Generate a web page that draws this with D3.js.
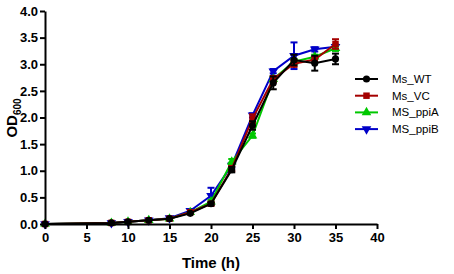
<!DOCTYPE html>
<head>
    <meta charset="utf-8">
    <title>Growth curve</title>
    <style>
        body { margin: 0; background: #fff; }
        text { font-family: "Liberation Sans", Arial, sans-serif; }
    </style>
</head>
<body>

<script src="https://cdnjs.cloudflare.com/ajax/libs/d3/7.8.5/d3.min.js"></script>

<script>

    // time points (h)
    const times = [0, 8, 10, 12.5, 15, 17.5, 20, 22.5, 25, 27.5, 30, 32.5, 35];

    // OD600 values
    const msWT   = [0, 0.02, 0.04, 0.07, 0.10, 0.20, 0.38, 1.02, 1.85, 2.65, 3.08, 3.02, 3.10];
    const msVC   = [0, 0.02, 0.04, 0.07, 0.10, 0.22, 0.38, 1.04, 1.98, 2.72, 3.01, 3.09, 3.38];
    const msPpiA = [0, 0.02, 0.04, 0.07, 0.10, 0.22, 0.42, 1.17, 1.66, 2.72, 3.05, 3.14, 3.30];
    const msPpiB = [0, 0.02, 0.04, 0.07, 0.11, 0.25, 0.53, 1.10, 2.04, 2.87, 3.16, 3.28, 3.33];

    // error bars (+/-)
    const errWT   = [0, 0.01, 0.01, 0.01, 0.01, 0.02, 0.03, 0.05, 0.08, 0.12, 0.10, 0.14, 0.10];
    const errVC   = [0, 0.01, 0.01, 0.01, 0.01, 0.02, 0.03, 0.05, 0.08, 0.06, 0.06, 0.05, 0.09];
    const errPpiA = [0, 0.01, 0.01, 0.01, 0.01, 0.02, 0.03, 0.05, 0.04, 0.05, 0.05, 0.04, 0.05];
    const errPpiB = [0, 0.01, 0.01, 0.01, 0.01, 0.02, 0.15, 0.04, 0.04, 0.04, 0.25, 0.04, 0.04];

    const seriesNames = ['Ms_WT', 'Ms_VC', 'MS_ppiA', 'MS_ppiB'];
    const seriesColors = ['#000000', '#a50000', '#00c800', '#0000c8'];

    const xTicks = [0, 5, 10, 15, 20, 25, 30, 35, 40];
    const yTicks = [0, 0.5, 1.0, 1.5, 2.0, 2.5, 3.0, 3.5, 4.0];

    const series = [
        {name: seriesNames[0], color: seriesColors[0], vals: msWT, err: errWT, sym: d3.symbolCircle, size: 40, rot: 0},
        {name: seriesNames[1], color: seriesColors[1], vals: msVC, err: errVC, sym: d3.symbolSquare, size: 42, rot: 0},
        {name: seriesNames[2], color: seriesColors[2], vals: msPpiA, err: errPpiA, sym: d3.symbolTriangle, size: 40, rot: 0},
        {name: seriesNames[3], color: seriesColors[3], vals: msPpiB, err: errPpiB, sym: d3.symbolTriangle, size: 40, rot: 180}
    ];

    const width = 454, height = 274;

    const x = d3.scaleLinear().domain([0, 40]).range([45, 377]);
    const y = d3.scaleLinear().domain([0, 4]).range([224, 11]);

    const svg = d3.select('body').append('svg')
        .attr('width', width)
        .attr('height', height);

    const line = d3.line()
        .x(d => x(d.t))
        .y(d => y(d.v));

    // draw last series first so WT ends up on top
    series.slice().reverse().forEach(s => {
        const pts = times.map((t, i) => ({t: t, v: s.vals[i], e: s.err[i]}));
        const g = svg.append('g').attr('class', 'series');

        g.append('path')
            .datum(pts)
            .attr('d', line)
            .attr('fill', 'none')
            .attr('stroke', s.color)
            .attr('stroke-width', 2);

        const eb = g.selectAll('.err')
            .data(pts.filter(d => d.e > 0.02))
            .enter().append('g')
            .attr('stroke', s.color)
            .attr('stroke-width', 2);
        eb.append('line')
            .attr('x1', d => x(d.t)).attr('x2', d => x(d.t))
            .attr('y1', d => y(d.v - d.e)).attr('y2', d => y(d.v + d.e));
        eb.append('line')
            .attr('x1', d => x(d.t) - 3.5).attr('x2', d => x(d.t) + 3.5)
            .attr('y1', d => y(d.v + d.e)).attr('y2', d => y(d.v + d.e));
        eb.append('line')
            .attr('x1', d => x(d.t) - 3.5).attr('x2', d => x(d.t) + 3.5)
            .attr('y1', d => y(d.v - d.e)).attr('y2', d => y(d.v - d.e));

        g.selectAll('.pt')
            .data(pts)
            .enter().append('path')
            .attr('d', d3.symbol().type(s.sym).size(s.size))
            .attr('transform', d => 'translate(' + x(d.t) + ',' + y(d.v) + ') rotate(' + s.rot + ')')
            .attr('fill', s.color);
    });

    // axes
    const xAxis = d3.axisBottom(x)
        .tickValues(xTicks)
        .tickSize(5)
        .tickSizeOuter(0)
        .tickFormat(d3.format('d'));

    const yAxis = d3.axisLeft(y)
        .tickValues(yTicks)
        .tickSize(5)
        .tickSizeOuter(0)
        .tickFormat(d3.format('.1f'));

    const gx = svg.append('g')
        .attr('transform', 'translate(0,' + y(0) + ')')
        .call(xAxis);

    const gy = svg.append('g')
        .attr('transform', 'translate(' + x(0) + ',0)')
        .call(yAxis);

    [gx, gy].forEach(g => {
        g.select('.domain').attr('stroke', '#000').attr('stroke-width', 2);
        g.selectAll('.tick line').attr('stroke', '#000').attr('stroke-width', 2);
        g.selectAll('.tick text')
            .attr('fill', '#000')
            .style('font-family', '"Liberation Sans", Arial, sans-serif')
            .style('font-size', '13px')
            .style('font-weight', 'bold');
    });
    gx.selectAll('.tick text').attr('y', 9);
    gy.selectAll('.tick text').attr('x', -7);

    svg.append('text')
        .attr('x', 211)
        .attr('y', 268)
        .attr('text-anchor', 'middle')
        .style('font-size', '15px')
        .style('font-weight', 'bold')
        .text('Time (h)');

    const yl = svg.append('text')
        .attr('transform', 'translate(17,118) rotate(-90)')
        .attr('text-anchor', 'middle')
        .style('font-size', '15px')
        .style('font-weight', 'bold');
    yl.append('tspan').text('OD');
    yl.append('tspan')
        .attr('dy', 4)
        .style('font-size', '10px')
        .text('600');

    // legend
    const legend = svg.append('g');
    series.forEach((s, i) => {
        const ly = 79 + i * 16.7;
        legend.append('line')
            .attr('x1', 355).attr('x2', 378)
            .attr('y1', ly).attr('y2', ly)
            .attr('stroke', s.color)
            .attr('stroke-width', 2);
        legend.append('path')
            .attr('d', d3.symbol().type(s.sym).size(s.size))
            .attr('transform', 'translate(366.5,' + ly + ') rotate(' + s.rot + ')')
            .attr('fill', s.color);
        legend.append('text')
            .attr('x', 392)
            .attr('y', ly + 4)
            .style('font-size', '11.5px')
            .text(s.name);
    });

</script>

</body>
